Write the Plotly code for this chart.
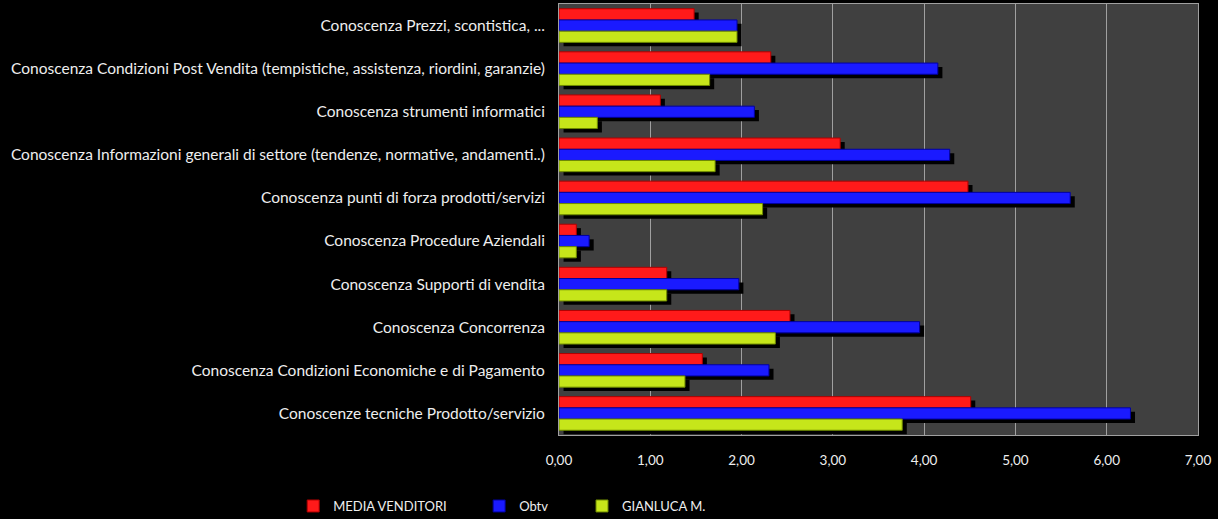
import plotly.graph_objects as go

categories = [
    "Conoscenze tecniche Prodotto/servizio",
    "Conoscenza Condizioni Economiche e di Pagamento",
    "Conoscenza Concorrenza",
    "Conoscenza Supporti di vendita",
    "Conoscenza Procedure Aziendali",
    "Conoscenza punti di forza prodotti/servizi",
    "Conoscenza Informazioni generali di settore (tendenze, normative, andamenti..)",
    "Conoscenza strumenti informatici",
    "Conoscenza Condizioni Post Vendita (tempistiche, assistenza, riordini, garanzie)",
    "Conoscenza Prezzi, scontistica, ...",
]
media_venditori = [4.51, 1.57, 2.53, 1.18, 0.19, 4.48, 3.08, 1.11, 2.32, 1.48]
obtv = [6.26, 2.30, 3.95, 1.97, 0.33, 5.60, 4.28, 2.14, 4.15, 1.95]
gianluca = [3.76, 1.38, 2.37, 1.18, 0.19, 2.23, 1.71, 0.42, 1.65, 1.95]
x_ticks = [0, 1, 2, 3, 4, 5, 6, 7]
x_tick_labels = ["0,00", "1,00", "2,00", "3,00", "4,00", "5,00", "6,00", "7,00"]

series = [
    ("MEDIA VENDITORI", media_venditori, "#FF1A1A", "#B00000", 0.13, "legend"),
    ("Obtv", obtv, "#1A1AFF", "#0000A0", -0.13, "legend2"),
    ("GIANLUCA M.", gianluca, "#C6E61A", "#6E8A00", -0.39, "legend3"),
]
W = 0.26
fig = go.Figure()
# drop shadows
for name, vals, col, dark, off, lg in series:
    fig.add_trace(go.Bar(
        y=categories, x=vals, orientation="h", base=0.05,
        offset=off - 0.09, width=W, marker=dict(color="#000000", line=dict(width=0)),
        showlegend=False, hoverinfo="skip"))
for name, vals, col, dark, off, lg in series:
    fig.add_trace(go.Bar(
        y=categories, x=vals, orientation="h", name=name,
        offset=off, width=W, legend=lg,
        marker=dict(color=col, line=dict(color=dark, width=1))))

txt = "#EEEEEE"
fam = "Lato, Open Sans, sans-serif"
font = dict(family=fam, size=13, color=txt)
leg_common = dict(orientation="h", yref="container", y=0.025, yanchor="middle",
                  xanchor="left", bgcolor="rgba(0,0,0,0)", font=font, itemwidth=30)
fig.update_layout(
    width=1218, height=519,
    margin=dict(l=559, r=20, t=4, b=84, autoexpand=False),
    paper_bgcolor="#000000", plot_bgcolor="#404040",
    barmode="overlay",
    font=font,
    legend=dict(x=-0.416, **leg_common),
    legend2=dict(x=-0.125, **leg_common),
    legend3=dict(x=0.036, **leg_common),
    xaxis=dict(range=[0, 7], tickvals=x_ticks, ticktext=x_tick_labels,
               showgrid=True, gridcolor="#A0A0A0", gridwidth=1, zeroline=False,
               showline=True, linecolor="#A0A0A0", mirror=True, ticks="",
               ticklabelstandoff=13, tickfont=dict(family=fam, size=13.5, color=txt),
               fixedrange=True),
    yaxis=dict(type="category", categoryorder="array", categoryarray=categories,
               range=[-0.5, 9.5], showgrid=False, showline=True, linecolor="#A0A0A0",
               mirror=True, ticks="", ticklabelstandoff=10,
               tickfont=dict(family=fam, size=15.5, color=txt)),
)
fig.write_html("out.html")
